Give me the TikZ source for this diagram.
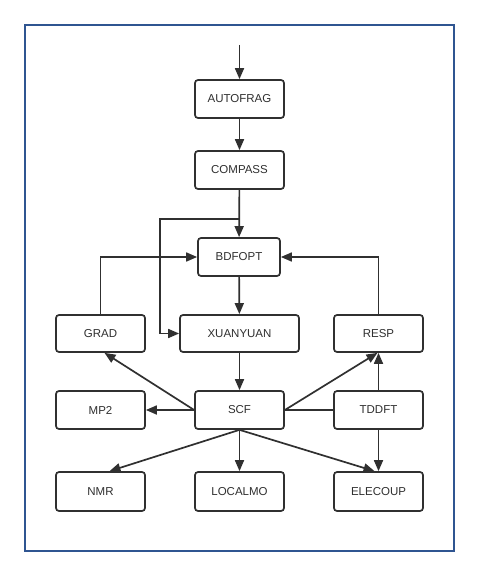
\documentclass[tikz,border=0pt]{standalone}
\usepackage{fontspec}
\setmainfont{Liberation Sans}
\usepackage{xcolor}
\usetikzlibrary{arrows.meta}
\definecolor{boxgray}{HTML}{303030}
\definecolor{frameblue}{HTML}{2F5591}
\tikzset{
  flbox/.style={draw=boxgray, line width=1.7pt, rounded corners=3pt, fill=white,
    minimum width=89pt, minimum height=38pt, inner sep=0pt, text=boxgray,
    font=\fontsize{11.5}{13}\selectfont},
  flow/.style={line width=1.7pt, draw=boxgray, -{Triangle[length=11pt,width=9pt]}},
  flline/.style={line width=1.7pt, draw=boxgray},
  flframe/.style={line width=2.2pt, draw=frameblue},
}
\begin{document}
\begin{tikzpicture}[x=1pt,y=-1pt]
\useasboundingbox (0,0) rectangle (479,577);
\draw[flframe] (25,25) rectangle (454,551);
% boxes
\node[flbox] (autofrag) at (239.5,99) {AUTOFRAG};
\node[flbox] (compass) at (239.5,170) {COMPASS};
\node[flbox, minimum width=82pt] (bdfopt) at (239,257) {BDFOPT};
\node[flbox, minimum width=119pt, minimum height=37pt] (xuanyuan) at (239.5,333.5) {XUANYUAN};
\node[flbox, minimum height=37pt] (grad) at (100.5,333.5) {GRAD};
\node[flbox, minimum height=37pt] (resp) at (378.5,333.5) {RESP};
\node[flbox] (mp2) at (100.5,410) {MP2};
\node[flbox] (scf) at (239.5,410) {SCF};
\node[flbox] (tddft) at (378.5,410) {TDDFT};
\node[flbox, minimum height=39pt] (nmr) at (100.5,491.5) {NMR};
\node[flbox, minimum height=39pt] (localmo) at (239.5,491.5) {LOCALMO};
\node[flbox, minimum height=39pt] (elecoup) at (378.5,491.5) {ELECOUP};
\coordinate (start) at (239.5,45);
\coordinate (split) at (239.5,219);
\coordinate (bend) at (160,219);
% connectors
\draw[flow] (start) -- (autofrag);
\draw[flow] (autofrag) -- (compass);
\draw[flow] (compass) -- (bdfopt);
\draw[flow] (split) -- (bend) |- (xuanyuan.west);
\draw[flow] (grad.north) |- (bdfopt.west);
\draw[flow] (resp.north) |- (bdfopt.east);
\draw[flow] (bdfopt) -- (xuanyuan);
\draw[flow] (xuanyuan) -- (scf);
\draw[flow] (scf.west) -- (mp2.east);
\draw[flow] (scf.west) -- ([xshift=4pt]grad.south);
\draw[flow] (scf.east) -- ([xshift=-1pt]resp.south);
\draw[flline] (scf.east) -- (tddft.west);
\draw[flow] (tddft) -- (resp);
\draw[flow] (tddft) -- (elecoup);
\draw[flow] (scf.south) -- ([xshift=9pt]nmr.north);
\draw[flow] (scf) -- (localmo);
\draw[flow] (scf.south) -- ([xshift=-4pt]elecoup.north);
\end{tikzpicture}
\end{document}
